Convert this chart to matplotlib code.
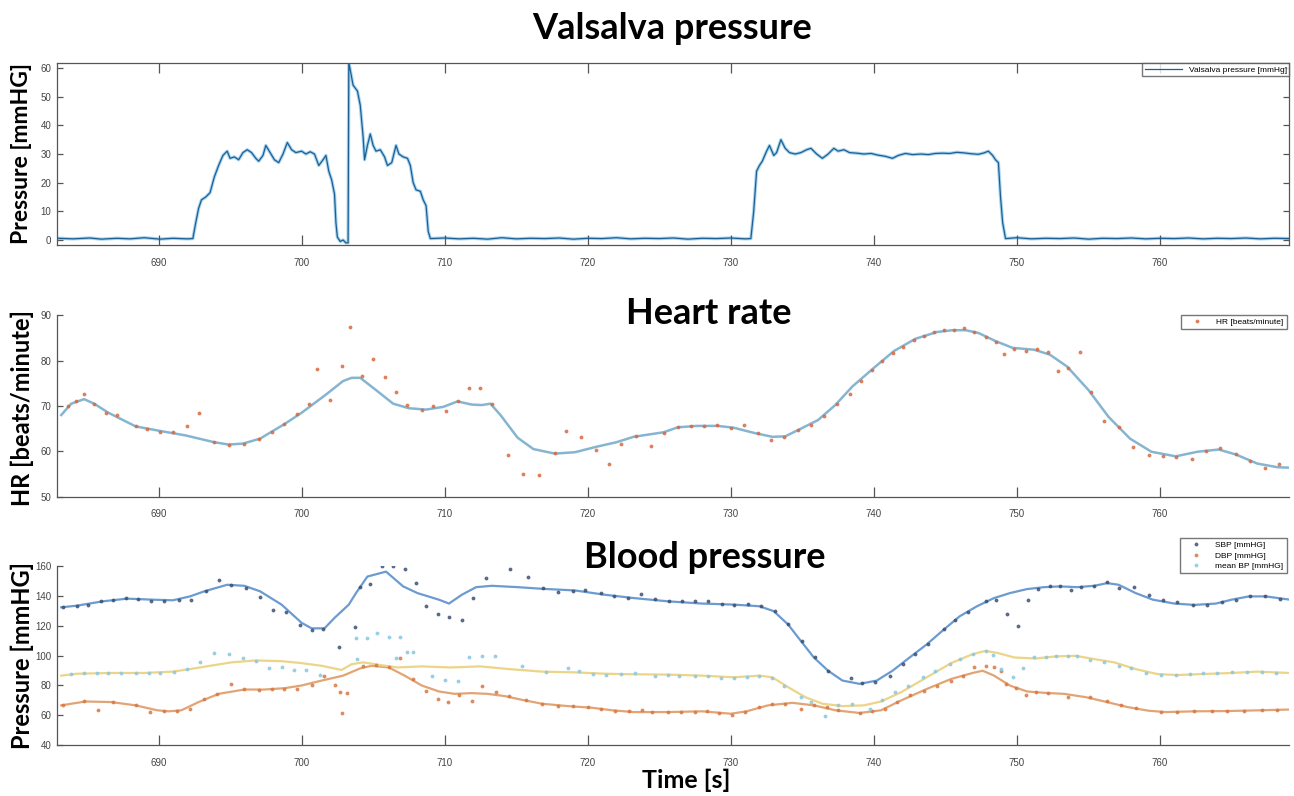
import matplotlib
matplotlib.use("Agg")
import matplotlib.pyplot as plt

# Valsalva pressure trace (time [s], pressure [mmHg])
valsalva_t = [683.0, 684.0, 685.2, 686.0, 687.1, 688.0, 689.0, 690.1, 691.0, 692.0, 692.4,
              692.6, 692.8, 693.0, 693.3, 693.6, 693.9, 694.2, 694.5, 694.8, 695.0, 695.3, 695.6,
              695.9, 696.2, 696.5, 696.8, 697.0, 697.3, 697.5, 697.8, 698.1, 698.4, 698.7, 699.0,
              699.3, 699.6, 700.0, 700.3, 700.6, 700.9, 701.2, 701.5, 701.7, 701.9, 702.1, 702.3,
              702.4, 702.5, 702.7, 702.9, 703.1, 703.25, 703.3, 703.45, 703.6, 703.9, 704.1, 704.3,
              704.4, 704.6, 704.8, 705.0, 705.2, 705.5, 705.8, 706.0, 706.3, 706.6, 706.8, 707.1,
              707.4, 707.6, 707.8, 708.0, 708.3, 708.5, 708.7, 708.85, 709.0,
              710.0, 711.0, 712.0, 713.0, 714.0, 715.0, 716.0, 717.0, 718.0, 719.0, 720.0, 721.0,
              722.0, 723.0, 724.0, 725.0, 726.0, 727.0, 728.0, 729.0, 730.0, 731.0, 731.4,
              731.6, 731.8, 732.0, 732.2, 732.5, 732.7, 733.0, 733.2, 733.5, 733.8, 734.1, 734.5,
              734.9, 735.3, 735.6, 736.0, 736.4, 736.8, 737.2, 737.5, 737.9, 738.3, 738.8, 739.3,
              739.8, 740.3, 740.8, 741.3, 741.7, 742.2, 742.7, 743.3, 743.8, 744.3, 744.8, 745.3,
              745.8, 746.3, 746.8, 747.3, 747.7, 748.0, 748.3, 748.5, 748.7, 748.85, 749.0, 749.2,
              750.0, 751.0, 752.0, 753.0, 754.0, 755.0, 756.0, 757.0, 758.0, 759.0, 760.0, 761.0,
              762.0, 763.0, 764.0, 765.0, 766.0, 767.0, 768.0, 769.0]
valsalva_p = [0.6, 0.4, 0.7, 0.3, 0.6, 0.4, 0.8, 0.3, 0.6, 0.4, 0.5,
              6, 11, 14, 15, 16.5, 22, 26, 29.5, 31, 28.5, 29, 28,
              30.5, 31.5, 30.5, 28.5, 27.5, 29.5, 33, 30.5, 28, 27, 30, 34,
              31.5, 30.5, 31, 30, 30.8, 30, 26, 28, 29.5, 24, 21, 16,
              6, 1, -0.5, 0, -1, -1, 62, 58, 54, 52, 47, 36,
              28, 33, 37, 33, 31, 31.5, 29, 26, 27, 33, 30, 29,
              28.5, 26, 20, 17.5, 17, 14, 12, 3, 0.5,
              0.7, 0.4, 0.6, 0.3, 0.8, 0.4, 0.6, 0.5, 0.7, 0.3, 0.6, 0.5,
              0.8, 0.4, 0.6, 0.5, 0.7, 0.3, 0.6, 0.5, 0.7, 0.4, 0.5,
              10, 24, 26, 27.5, 31, 33, 29.5, 30.5, 35, 32, 30.5, 30,
              30.5, 31.5, 32, 30, 28.5, 30, 32, 31, 31.5, 30.5, 30.3, 30,
              30.2, 29.6, 29.2, 28.5, 29.5, 30.2, 29.8, 30, 29.8, 30.2, 30.3, 30.2,
              30.6, 30.4, 30.1, 29.9, 30.4, 31, 29.5, 28, 27, 15, 6, 0.5,
              0.8, 0.4, 0.6, 0.5, 0.7, 0.3, 0.6, 0.5, 0.7, 0.4, 0.6, 0.5,
              0.7, 0.4, 0.6, 0.5, 0.7, 0.4, 0.6, 0.5]

# Heart rate beats
hr_t = [683.7, 684.2, 684.8, 685.5, 686.3, 687.1, 688.4, 689.2, 690.1, 691.0, 692.0, 692.8,
        693.9, 694.9, 696.0, 697.0, 697.9, 698.8, 699.7, 700.5, 701.1, 702.0, 702.8, 703.4,
        704.2, 705.0, 705.8, 706.6, 707.4, 708.4, 709.2, 710.1, 710.9, 711.7, 712.5, 713.3,
        714.4, 715.5, 716.6, 717.7, 718.5, 719.5, 720.6, 721.5, 722.3, 723.4, 724.4, 725.3,
        726.3, 727.2, 728.1, 729.0, 730.0, 730.9, 731.9, 732.8, 733.7, 734.7, 735.6, 736.5,
        737.4, 738.3, 739.1, 739.9, 740.6, 741.3, 742.0, 742.8, 743.5, 744.2, 744.9, 745.6,
        746.3, 747.0, 747.8, 748.5, 749.1, 749.8, 750.6, 751.4, 752.2, 752.9, 753.6, 754.4,
        755.2, 756.1, 757.1, 758.1, 759.2, 760.2, 761.1, 762.2, 763.2, 764.2, 765.3, 766.3,
        767.3, 768.3]
hr = [70.0, 71.0, 72.6, 70.5, 68.5, 68.0, 65.5, 65.0, 64.2, 64.3, 65.5, 68.5,
      62.0, 61.5, 61.7, 62.8, 64.2, 66.0, 68.2, 70.5, 78.2, 71.3, 78.7, 87.4,
      76.6, 80.4, 76.3, 73.1, 70.2, 69.2, 70.0, 68.8, 71.0, 73.9, 73.9, 70.4,
      59.3, 55.0, 54.8, 59.7, 64.4, 63.1, 60.2, 57.2, 61.6, 63.3, 61.1, 64.0,
      65.3, 65.5, 65.5, 65.7, 65.2, 65.9, 64.0, 62.4, 63.1, 64.6, 65.7, 67.7,
      70.5, 72.7, 75.6, 77.9, 80.0, 81.6, 83.1, 84.6, 85.5, 86.2, 86.7, 86.7,
      87.2, 86.2, 85.1, 84.1, 81.4, 82.5, 82.1, 82.5, 82.0, 77.8, 78.3, 82.0,
      73.1, 66.6, 65.3, 60.9, 59.2, 59.0, 58.7, 58.3, 60.1, 60.7, 59.4, 57.9,
      56.4, 57.3]

# smoothed heart rate curve
hr_fit_t = [683.2, 683.9, 684.8, 685.5, 686.5, 688.4, 690.1, 691.9, 693.9, 694.9, 695.9, 697.1,
            698.8, 700.0, 701.7, 702.9, 703.5, 704.1, 705.2, 706.4, 707.5, 708.7, 709.9, 710.9,
            711.9, 712.6, 713.2, 713.9, 715.1, 716.2, 717.7, 719.1, 720.6, 722.0, 723.2, 725.3,
            726.3, 727.6, 729.1, 730.2, 731.7, 732.9, 733.8, 734.9, 736.1, 737.3, 738.5, 740.0,
            741.4, 742.9, 744.4, 745.5, 746.4, 747.3, 748.5, 749.7, 751.2, 752.3, 753.5, 755.0,
            756.4, 757.9, 759.4, 761.1, 762.6, 764.1, 765.3, 766.8, 768.2, 769.0]
hr_fit = [68.0, 70.5, 71.5, 70.5, 68.5, 65.5, 64.5, 63.5, 62.0, 61.5, 61.7, 62.8,
          66.0, 68.5, 72.5, 75.5, 76.2, 76.2, 73.5, 70.5, 69.5, 69.2, 69.8, 71.0,
          70.3, 70.2, 70.5, 68.0, 63.0, 60.5, 59.5, 59.8, 61.0, 62.0, 63.2, 64.2,
          65.3, 65.6, 65.6, 65.2, 64.0, 63.2, 63.3, 65.0, 66.9, 70.2, 74.3, 78.4,
          82.1, 84.8, 86.3, 86.7, 86.7, 86.1, 84.3, 82.8, 82.4, 81.3, 78.7, 73.5,
          67.6, 62.8, 59.9, 58.9, 59.9, 60.4, 59.3, 57.3, 56.5, 56.4]

# systolic beats
sbp_t = [683.3, 684.3, 685.1, 686.0, 686.8, 687.7, 688.6, 689.5, 690.4, 691.4, 692.3, 693.3,
         694.2, 695.1, 696.1, 697.1, 698.0, 698.9, 699.9, 700.7, 701.5, 702.6, 703.7, 704.1,
         704.8, 705.6, 706.4, 707.2, 708.0, 708.7, 709.5, 710.3, 711.2, 712.0, 712.9, 714.6,
         715.8, 716.9, 717.9, 719.0, 719.8, 720.9, 721.8, 722.8, 723.7, 724.7, 725.7, 726.6,
         727.5, 728.4, 729.4, 730.2, 731.2, 732.1, 733.1, 734.0, 735.0, 735.9, 736.8, 738.4,
         739.2, 740.1, 741.1, 742.0, 742.9, 743.8, 744.9, 745.7, 746.6, 747.8, 748.5, 749.3,
         750.1, 750.8, 751.5, 752.3, 753.0, 753.8, 754.5, 755.4, 756.3, 757.1, 758.2, 759.2,
         760.2, 761.2, 762.3, 763.3, 764.3, 765.3, 766.3, 767.3, 768.4]
sbp = [132.3, 133.0, 134.1, 136.3, 137.0, 138.5, 137.9, 136.3, 136.5, 137.0, 137.4, 143.4,
       150.3, 147.4, 145.2, 139.2, 130.3, 129.0, 120.2, 117.1, 117.9, 105.6, 119.0, 146.0,
       148.0, 160.0, 160.0, 158.0, 148.6, 133.4, 127.9, 125.9, 124.1, 138.5, 151.8, 158.0,
       152.5, 145.2, 142.5, 143.4, 144.0, 141.8, 139.6, 138.5, 141.2, 138.1, 136.3, 136.3,
       136.3, 136.8, 134.8, 134.1, 134.8, 133.0, 129.7, 120.8, 109.7, 98.7, 89.8, 84.9,
       81.4, 82.1, 86.5, 94.3, 100.9, 107.5, 117.5, 124.1, 129.0, 136.3, 137.4, 127.9,
       119.7, 137.0, 144.5, 146.3, 146.3, 143.6, 145.8, 146.9, 149.2, 145.2, 145.8, 140.7,
       137.0, 135.6, 133.9, 134.1, 135.6, 137.4, 140.0, 140.0, 138.0]

sbp_fit_t = [683.2, 684.3, 686.1, 687.8, 689.6, 691.0, 692.2, 693.2, 694.8, 696.0, 697.1, 698.6,
             700.0, 700.7, 701.6, 702.3, 703.3, 703.8, 704.6, 705.9, 707.1, 708.1, 709.6, 710.3,
             711.2, 712.2, 713.3, 715.1, 716.8, 719.1, 721.2, 723.2, 725.6, 728.0, 730.2, 732.0,
             733.0, 734.0, 734.9, 735.8, 736.8, 737.8, 739.0, 740.2, 741.3, 742.5, 743.7, 744.9,
             746.0, 747.2, 748.4, 749.5, 750.7, 751.9, 753.0, 754.2, 755.4, 756.3, 757.1, 758.3,
             759.5, 761.0, 762.4, 763.9, 765.0, 766.2, 767.4, 769.0]
sbp_fit = [132.3, 133.4, 136.3, 138.1, 137.4, 137.0, 139.6, 143.0, 147.4, 146.7, 143.0, 134.1,
           121.9, 118.2, 118.2, 125.2, 134.1, 141.8, 152.9, 156.2, 146.3, 141.8, 137.4, 134.8,
           140.7, 145.8, 146.7, 145.8, 144.7, 143.6, 140.7, 138.5, 136.3, 134.8, 134.1, 133.0,
           129.7, 120.8, 109.7, 98.7, 89.8, 83.2, 81.0, 83.2, 89.8, 98.7, 107.5, 117.5,
           126.3, 133.0, 138.5, 141.8, 144.5, 145.8, 146.3, 145.8, 146.7, 148.5, 147.4, 141.8,
           137.4, 134.8, 133.9, 134.8, 137.4, 139.6, 139.6, 137.5]

# diastolic beats
dbp_t = [683.3, 684.8, 685.8, 686.8, 688.4, 689.4, 690.4, 691.3, 692.2, 693.2, 694.1, 695.1,
         696.0, 697.0, 697.9, 698.8, 699.7, 700.7, 701.6, 702.3, 702.7, 702.8, 703.2, 704.3,
         705.2, 706.1, 706.9, 707.8, 708.7, 709.5, 710.2, 711.0, 711.9, 712.6, 713.6, 714.5,
         715.7, 716.8, 717.9, 719.0, 720.0, 720.9, 721.9, 722.9, 723.8, 724.5, 725.6, 726.5,
         727.5, 728.3, 729.2, 730.1, 731.0, 732.0, 732.9, 733.8, 734.9, 735.8, 736.7, 737.5,
         739.0, 739.9, 740.8, 741.6, 742.5, 743.5, 744.4, 745.4, 746.2, 747.0, 747.8, 748.4,
         748.9, 749.2, 749.9, 750.6, 751.3, 752.2, 753.6, 755.1, 756.3, 757.3, 758.3, 760.1,
         761.2, 762.4, 763.6, 764.7, 765.9, 767.1, 768.2]
dbp = [66.6, 69.2, 63.3, 68.8, 67.0, 62.1, 62.6, 62.8, 64.4, 70.6, 73.9, 81.0,
       77.6, 77.2, 77.6, 77.6, 77.6, 80.5, 86.2, 80.1, 75.4, 61.5, 74.8, 93.0,
       93.5, 92.5, 98.0, 84.0, 76.5, 71.0, 68.8, 73.7, 69.2, 79.4, 75.4, 72.6,
       69.9, 67.7, 66.1, 65.9, 65.5, 64.4, 62.6, 62.6, 63.3, 62.1, 62.1, 62.1,
       62.1, 62.6, 61.7, 60.4, 62.1, 65.5, 67.2, 67.7, 64.4, 66.6, 65.5, 63.3,
       61.5, 62.6, 64.4, 68.8, 73.3, 76.5, 79.9, 83.2, 86.5, 92.0, 92.7, 92.0,
       89.8, 81.0, 78.1, 73.7, 75.4, 75.0, 72.1, 72.1, 69.2, 67.0, 64.8, 62.1,
       62.1, 62.6, 62.6, 63.0, 63.0, 63.3, 63.7]

dbp_fit_t = [683.2, 684.9, 686.7, 688.4, 689.9, 690.7, 691.6, 692.8, 694.2, 696.0, 697.4, 698.8,
             700.0, 701.4, 702.9, 704.1, 704.9, 706.1, 707.2, 708.4, 709.6, 710.7, 711.9, 713.0,
             714.2, 715.4, 716.8, 718.6, 720.3, 721.7, 723.2, 725.6, 728.0, 730.0, 731.1, 732.6,
             734.3, 735.8, 737.3, 739.0, 740.5, 741.9, 743.7, 745.4, 746.9, 747.6, 748.4, 749.5,
             750.7, 751.9, 753.3, 754.8, 756.3, 757.7, 759.2, 760.4, 762.4, 764.7, 767.1, 769.0]
dbp_fit = [66.6, 69.2, 68.8, 66.6, 63.3, 62.6, 63.3, 68.8, 74.3, 77.2, 77.2, 78.1,
           79.9, 83.2, 86.5, 91.4, 93.1, 92.0, 86.5, 79.9, 75.9, 74.3, 74.8, 74.3,
           72.8, 70.3, 67.7, 66.1, 65.0, 63.3, 62.1, 62.1, 62.6, 61.0, 62.6, 66.6,
           68.3, 66.6, 63.3, 61.5, 63.3, 69.9, 77.6, 84.3, 88.3, 89.8, 86.5, 79.9,
           75.9, 75.0, 74.3, 72.1, 68.8, 65.5, 63.0, 62.1, 62.6, 62.8, 63.3, 63.8]

# mean pressure beats
mbp_t = [683.9, 684.8, 685.7, 686.5, 687.4, 688.4, 689.3, 690.1, 691.1, 692.0, 692.9, 693.9,
         694.9, 695.9, 696.8, 697.7, 698.6, 699.5, 700.3, 701.3, 703.8, 703.9, 704.6, 705.3,
         706.1, 706.6, 706.9, 707.4, 707.8, 709.1, 710.0, 710.9, 711.7, 712.6, 713.5, 715.4,
         717.1, 718.6, 719.4, 720.4, 721.3, 722.3, 723.3, 724.7, 725.6, 726.4, 727.5, 728.4,
         729.3, 730.2, 731.1, 732.0, 732.9, 733.7, 734.9, 735.6, 736.6, 737.5, 738.5, 739.7,
         740.6, 741.5, 742.4, 743.4, 744.3, 745.3, 746.0, 746.9, 747.8, 748.3, 748.9, 749.7,
         750.4, 751.2, 752.0, 752.7, 753.6, 754.2, 755.1, 756.1, 757.1, 758.0, 759.0, 760.1,
         761.1, 762.1, 763.0, 764.0, 765.0, 766.1, 767.1, 768.1]
mbp = [87.4, 88.3, 88.3, 88.3, 88.3, 88.3, 88.0, 88.3, 88.7, 90.9, 95.4, 102.0,
       100.7, 98.5, 96.5, 91.4, 92.5, 90.5, 90.5, 86.9, 111.7, 97.6, 111.7, 115.0,
       112.3, 98.0, 112.3, 102.4, 102.3, 86.5, 83.8, 83.2, 98.7, 99.4, 99.4, 93.1,
       89.2, 91.4, 89.8, 87.6, 86.9, 87.6, 88.3, 86.5, 86.9, 86.5, 86.5, 86.5,
       85.0, 85.0, 85.4, 86.5, 85.0, 79.9, 72.1, 68.8, 59.5, 66.6, 67.2, 64.4,
       69.9, 75.4, 79.9, 85.4, 89.8, 94.3, 97.6, 100.9, 103.1, 100.2, 90.9, 85.4,
       91.4, 98.7, 98.7, 99.4, 99.4, 99.8, 96.9, 95.4, 93.1, 91.4, 88.3, 86.9,
       86.9, 87.4, 88.0, 88.3, 88.7, 88.7, 88.7, 88.3]

mbp_fit_t = [683.2, 684.3, 686.7, 689.0, 691.0, 692.2, 693.6, 695.1, 696.8, 698.6, 700.0, 701.4,
             702.8, 703.5, 704.3, 705.5, 706.7, 708.4, 710.4, 712.5, 714.5, 716.8, 719.1, 721.2,
             723.2, 725.6, 728.0, 730.2, 732.0, 732.9, 734.0, 735.2, 736.4, 737.8, 739.3, 740.5,
             741.9, 743.7, 745.4, 746.9, 747.8, 748.7, 749.8, 751.3, 752.7, 754.1, 755.4, 756.8,
             758.3, 759.8, 761.2, 763.0, 765.0, 766.8, 769.0]
mbp_fit = [86.5, 87.8, 88.3, 88.3, 89.2, 90.9, 93.1, 95.4, 96.7, 96.2, 94.9, 93.1,
           90.3, 94.2, 95.4, 93.6, 92.0, 92.7, 92.0, 92.7, 90.9, 89.2, 88.7, 87.8,
           87.4, 87.2, 86.5, 85.4, 86.5, 85.4, 78.8, 72.1, 67.7, 66.1, 66.6, 69.2,
           75.4, 85.4, 94.9, 100.9, 103.1, 101.6, 98.7, 98.0, 99.4, 99.8, 97.6, 95.4,
           90.9, 87.6, 86.9, 87.6, 88.3, 89.2, 88.3]

xticks = [690, 700, 710, 720, 730, 740, 750, 760]
xlims = (682.9, 769.0)

fig = plt.figure(figsize=(12.94, 7.96), dpi=100)
plt.rcParams['font.family'] = ['Liberation Sans', 'DejaVu Sans']

ax1 = fig.add_axes([0.044, 0.692, 0.952, 0.229])
ax2 = fig.add_axes([0.044, 0.376, 0.952, 0.228])
ax3 = fig.add_axes([0.044, 0.064, 0.952, 0.225])

grey = '#555555'


def style(ax, box):
    ax.set_xlim(*xlims)
    ax.set_xticks(xticks)
    for s in ax.spines.values():
        s.set_color(grey)
        s.set_linewidth(0.9)
    if not box:
        ax.spines['top'].set_visible(False)
        ax.spines['right'].set_visible(False)
    ax.tick_params(axis='x', direction='in', length=7, width=0.9, color=grey,
                   labelsize=7, labelcolor='#444444', pad=9, top=box)
    ax.tick_params(axis='y', direction='in', length=4, width=0.9, color=grey,
                   labelsize=7, labelcolor='#444444', pad=4, right=box)


# Valsalva pressure
ax1.plot(valsalva_t, valsalva_p, color='#a8d4ee', lw=2.4, zorder=1)
ax1.plot(valsalva_t, valsalva_p, color='#1c5f94', lw=0.9, label='Valsalva pressure [mmHg]', zorder=2)
ax1.set_ylim(-1.8, 61.8)
ax1.set_yticks([0, 10, 20, 30, 40, 50, 60])
style(ax1, True)
ax1.legend(loc='upper right', bbox_to_anchor=(0.9965, 0.9205), bbox_transform=fig.transFigure,
           fontsize=6, frameon=True, fancybox=False, edgecolor=grey, handlelength=4.5,
           borderpad=0.3, borderaxespad=0)

# Heart rate
ax2.plot(hr_fit_t, hr_fit, color='#86b5d1', lw=1.8, zorder=1)
ax2.plot(hr_t, hr, ls='none', marker='o', ms=1.8, color='#d8683f', alpha=0.75,
         label='HR [beats/minute]', zorder=2)
ax2.set_ylim(50, 90)
ax2.set_yticks([50, 60, 70, 80, 90])
style(ax2, False)
ax2.legend(loc='upper right', bbox_to_anchor=(0.9945, 0.6045), bbox_transform=fig.transFigure,
           fontsize=6, frameon=True, fancybox=False, edgecolor=grey, handlelength=3,
           borderpad=0.4, borderaxespad=0)

# Blood pressure
ax3.plot(sbp_fit_t, sbp_fit, color='#6b9bd0', lw=1.6, zorder=1)
ax3.plot(dbp_fit_t, dbp_fit, color='#e2a475', lw=1.6, zorder=1)
ax3.plot(mbp_fit_t, mbp_fit, color='#ecd488', lw=1.6, zorder=1)
ax3.plot(sbp_t, sbp, ls='none', marker='o', ms=1.8, color='#3a4f70', alpha=0.75,
         label='SBP [mmHG]', zorder=2)
ax3.plot(dbp_t, dbp, ls='none', marker='o', ms=1.8, color='#d8773f', alpha=0.75,
         label='DBP [mmHG]', zorder=2)
ax3.plot(mbp_t, mbp, ls='none', marker='o', ms=1.8, color='#8cc9e3', alpha=0.8,
         label='mean BP [mmHG]', zorder=2)
ax3.set_ylim(40, 160)
ax3.set_yticks([40, 60, 80, 100, 120, 140, 160])
style(ax3, False)
ax3.legend(loc='upper right', bbox_to_anchor=(0.9945, 0.324), bbox_transform=fig.transFigure,
           fontsize=6, frameon=True, fancybox=False, edgecolor=grey, handlelength=3,
           borderpad=0.4, borderaxespad=0, labelspacing=0.3)

# titles and labels, Calibri-like bold text
tfont = ['Lato', 'DejaVu Sans']
fig.text(0.519, 0.964, 'Valsalva pressure', ha='center', va='center', fontsize=26,
         fontweight='bold', family=tfont)
fig.text(0.548, 0.606, 'Heart rate', ha='center', va='center', fontsize=26,
         fontweight='bold', family=tfont)
fig.text(0.545, 0.3, 'Blood pressure', ha='center', va='center', fontsize=26,
         fontweight='bold', family=tfont)
fig.text(0.53, 0.02, 'Time [s]', ha='center', va='center', fontsize=18,
         fontweight='bold', family=tfont)
fig.text(0.017, 0.807, 'Pressure [mmHG]', ha='center', va='center', rotation=90,
         fontsize=16.5, fontweight='bold', family=tfont)
fig.text(0.017, 0.488, 'HR [beats/minute]', ha='center', va='center', rotation=90,
         fontsize=17, fontweight='bold', family=tfont)
fig.text(0.017, 0.177, 'Pressure [mmHG]', ha='center', va='center', rotation=90,
         fontsize=17, fontweight='bold', family=tfont)

fig.savefig('out.png', dpi=100)
